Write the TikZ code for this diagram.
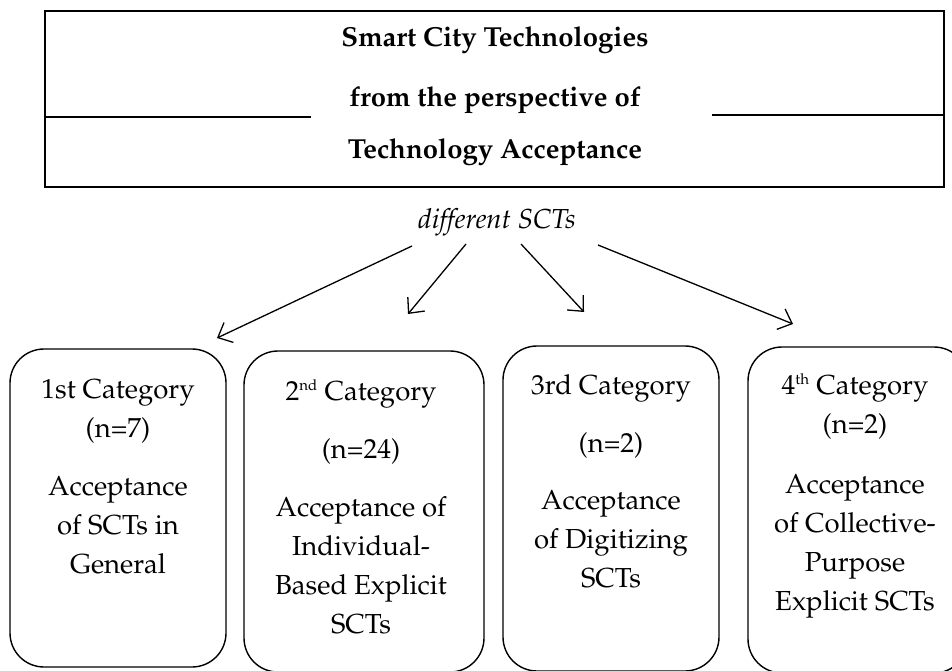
\documentclass[tikz,border=0pt]{standalone}
\usepackage[T1]{fontenc}
\usepackage{mathpazo}
\usetikzlibrary{arrows.meta}
\tikzset{
  titlebox/.style={draw, line width=2pt, inner sep=0pt},
  rule/.style={line width=2pt},
  catbox/.style={draw, line width=1.4pt, rounded corners=34pt, inner sep=0pt},
  titletext/.style={font=\fontsize{27.5}{30}\selectfont\bfseries, anchor=base, inner sep=0pt},
  cattext/.style={font=\fontsize{27.5}{39}\selectfont, align=center, anchor=base, inner sep=0pt},
  lbl/.style={font=\fontsize{27.5}{30}\selectfont\itshape, anchor=base, inner sep=0pt},
  arr/.style={line width=1.3pt, -{Straight Barb[length=12pt,width=22pt,line width=1.3pt]}}
}
\newcommand{\supr}[1]{\textsuperscript{\fontsize{15}{15}\selectfont #1}}
\begin{document}
\begin{tikzpicture}[x=1pt,y=-1pt]
\useasboundingbox (0,0) rectangle (952,671);
\clip (0,0) rectangle (952,671);
% title box
\node[titlebox, minimum width=899pt, minimum height=176pt] (top) at (494.5,99) {};
\coordinate (ll) at (311,117);
\coordinate (rl) at (712,115);
\draw[rule] (top.west |- ll) -- (ll);
\draw[rule] (rl) -- (top.east |- rl);
\node[titletext] (t1) at (495,47) {Smart City Technologies};
\node[titletext] (t2) at (495,107) {from the perspective of};
\node[titletext] (t3) at (495,159) {Technology Acceptance};
% label
\node[lbl] (diff) at (497,228) {different SCTs};
% category boxes
\node[catbox, minimum width=216pt, minimum height=318pt] (b1) at (118,508) {};
\node[catbox, minimum width=240pt, minimum height=321pt] (b2) at (364,511.5) {};
\node[catbox, minimum width=216pt, minimum height=325pt] (b3) at (611,508.5) {};
\node[catbox, minimum width=220pt, minimum height=326pt] (b4) at (858,510) {};
% category texts (anchored at the baseline of the last line)
\node[cattext] (c1) at (118,573) {1st Category\\ (n=7)\\[19pt] Acceptance\\ of SCTs in\\ General};
\node[cattext] (c2) at (361,633) {2\supr{nd} Category\\[19pt] (n=24)\\[19pt] Acceptance of\\ Individual-\\ Based Explicit\\ SCTs};
\node[cattext] (c3) at (611,587) {3rd Category\\[19pt] (n=2)\\[18pt] Acceptance\\ of Digitizing\\ SCTs};
\node[cattext] (c4) at (855,610) {4\supr{th} Category\\ (n=2)\\[21pt] Acceptance\\ of Collective-\\ Purpose\\ Explicit SCTs};
% arrows
\coordinate (s1) at (412,246); \coordinate (e1) at (217,338);
\coordinate (s2) at (466,244); \coordinate (e2) at (408,314);
\coordinate (s3) at (521,244); \coordinate (e3) at (584,312);
\coordinate (s4) at (598,245); \coordinate (e4) at (793,324);
\draw[arr] (s1) -- (e1);
\draw[arr] (s2) -- (e2);
\draw[arr] (s3) -- (e3);
\draw[arr] (s4) -- (e4);
\end{tikzpicture}
\end{document}
